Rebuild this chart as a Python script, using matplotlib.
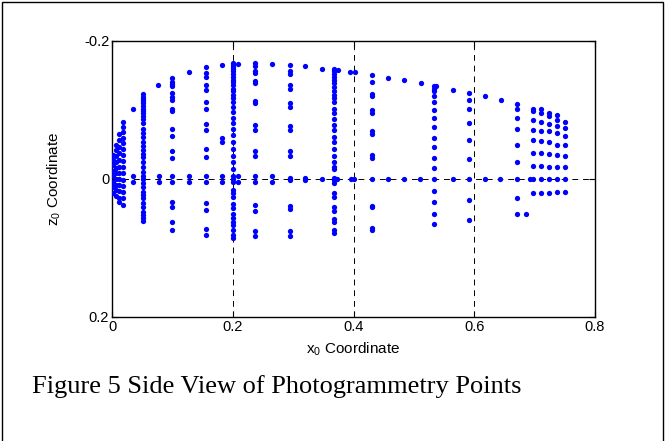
import matplotlib
matplotlib.use("Agg")
import matplotlib.pyplot as plt
from matplotlib.patches import Rectangle

plt.rcParams['font.family'] = ['Liberation Sans', 'DejaVu Sans']
plt.rcParams['mathtext.fontset'] = 'custom'
plt.rcParams['mathtext.rm'] = 'Liberation Sans'
plt.rcParams['mathtext.it'] = 'Liberation Sans:italic'

# ---- data: vertical station columns (x0, list of z0) ----
col_x = [0.002, 0.007, 0.012, 0.018, 0.034, 0.052, 0.100, 0.155, 0.182,
         0.200, 0.237, 0.294, 0.368, 0.430, 0.533, 0.591, 0.671,
         0.697, 0.710, 0.723, 0.737, 0.750]
col_z = [
    [-0.035, -0.028, -0.020, -0.012, -0.004, 0.005, 0.012, 0.020],
    [-0.050, -0.042, -0.033, -0.025, -0.016, -0.008, 0.000, 0.008, 0.016, 0.024],
    [-0.065, -0.056, -0.047, -0.038, -0.028, -0.018, -0.009, 0.000, 0.009, 0.018, 0.027, 0.033],
    [-0.082, -0.075, -0.068, -0.060, -0.052, -0.044, -0.035, -0.026, -0.017, -0.008,
     0.001, 0.010, 0.019, 0.028, 0.038],
    [-0.101, -0.004, 0.005],
    [-0.123, -0.119, -0.116, -0.113, -0.110, -0.106, -0.101, -0.099, -0.096, -0.091,
     -0.087, -0.081, -0.072, -0.067, -0.061, -0.054, -0.048, -0.042, -0.036, -0.032,
     -0.025, -0.017, -0.010, -0.004, 0.000, 0.006, 0.012, 0.019, 0.023, 0.028,
     0.035, 0.041, 0.048, 0.052, 0.057, 0.061],
    [-0.147, -0.141, -0.138, -0.135, -0.124, -0.119, -0.114, -0.101, -0.098, -0.072,
     -0.062, -0.040, -0.030, -0.004, 0.005, 0.033, 0.041, 0.063, 0.074],
    [-0.163, -0.154, -0.148, -0.136, -0.129, -0.111, -0.102, -0.079, -0.071, -0.043,
     -0.032, -0.004, 0.005, 0.035, 0.045, 0.073, 0.081],
    [-0.165, -0.060, -0.053, -0.004, 0.005],
    [-0.168, -0.165, -0.162, -0.159, -0.156, -0.152, -0.148, -0.144, -0.140, -0.136,
     -0.131, -0.127, -0.122, -0.117, -0.112, -0.105, -0.097, -0.089, -0.081, -0.072,
     -0.064, -0.054, -0.044, -0.033, -0.024, -0.014, -0.004, 0.000, 0.005, 0.016,
     0.021, 0.026, 0.036, 0.042, 0.050, 0.056, 0.062, 0.067, 0.074, 0.081, 0.085],
    [-0.168, -0.164, -0.157, -0.154, -0.142, -0.139, -0.113, -0.110, -0.078, -0.071,
     -0.041, -0.033, -0.004, 0.005, 0.038, 0.046, 0.075, 0.083],
    [-0.165, -0.156, -0.152, -0.136, -0.131, -0.110, -0.105, -0.077, -0.071, -0.040,
     -0.033, -0.002, 0.002, 0.039, 0.044, 0.076, 0.083],
    [-0.159, -0.156, -0.152, -0.148, -0.143, -0.139, -0.134, -0.128, -0.122, -0.117,
     -0.111, -0.102, -0.095, -0.087, -0.078, -0.071, -0.061, -0.053, -0.043, -0.033,
     -0.025, -0.018, -0.014, -0.001, 0.001, 0.006, 0.020, 0.026, 0.041, 0.047,
     0.058, 0.062, 0.074, 0.078],
    [-0.151, -0.140, -0.123, -0.120, -0.100, -0.096, -0.069, -0.065, -0.035, -0.031,
     0.000, 0.039, 0.041, 0.071, 0.074],
    [-0.135, -0.131, -0.127, -0.120, -0.111, -0.100, -0.088, -0.075, -0.060, -0.046,
     -0.031, -0.016, 0.000, 0.018, 0.034, 0.050, 0.065],
    [-0.124, -0.115, -0.101, -0.081, -0.057, -0.029, 0.000, 0.030, 0.059],
    [-0.109, -0.101, -0.089, -0.072, -0.050, -0.025, 0.000, 0.027, 0.051],
    [-0.102, -0.098, -0.086, -0.071, -0.057, -0.037, -0.019, 0.000, 0.020],
    [-0.101, -0.095, -0.082, -0.070, -0.055, -0.037, -0.019, 0.000, 0.020],
    [-0.096, -0.091, -0.080, -0.069, -0.054, -0.036, -0.018, 0.000, 0.020],
    [-0.093, -0.086, -0.077, -0.066, -0.050, -0.035, -0.018, 0.000, 0.019],
    [-0.083, -0.074, -0.063, -0.049, -0.033, -0.017, 0.000, 0.019],
]

# ---- data: single rim points along the upper outline ----
rim_x = [0.076, 0.127, 0.209, 0.265, 0.320, 0.348, 0.375, 0.395, 0.403,
         0.457, 0.483, 0.512, 0.537, 0.565, 0.617, 0.645, 0.685]
rim_z = [-0.136, -0.155, -0.166, -0.166, -0.164, -0.160, -0.158, -0.155, -0.155,
         -0.147, -0.143, -0.139, -0.135, -0.129, -0.120, -0.114, 0.050]

# ---- data: points on (or right next to) the z0 = 0 line ----
zero_x = [0.078, 0.078, 0.128, 0.128, 0.209, 0.209, 0.265, 0.265, 0.320, 0.320,
          0.347, 0.372, 0.396, 0.400, 0.457, 0.483, 0.510, 0.565, 0.617, 0.643, 0.693]
zero_z = [-0.004, 0.005, -0.004, 0.005, -0.004, 0.005, -0.004, 0.005, -0.002, 0.002,
          0.000, 0.000, 0.000, 0.000, 0.000, 0.000, 0.000, 0.000, 0.000, 0.000, 0.000]

x_ticks = [0, 0.2, 0.4, 0.6, 0.8]
x_ticklabels = ['0', '0.2', '0.4', '0.6', '0.8']
y_ticks = [-0.2, 0, 0.2]
y_ticklabels = ['-0.2', '0', '0.2']

fig = plt.figure(figsize=(6.66, 4.41), dpi=100)
ax = fig.add_axes([112 / 666, 1 - 317 / 441, (595 - 112) / 666, (317 - 41) / 441])

blue = '#0000ff'
xs, zs = [], []
for cx, cz in zip(col_x, col_z):
    xs.extend([cx] * len(cz))
    zs.extend(cz)
xs.extend(rim_x); zs.extend(rim_z)
xs.extend(zero_x); zs.extend(zero_z)
ax.plot(xs, zs, linestyle='none', marker='o', ms=3.8, mfc=blue, mec='none', zorder=3)

ax.set_xlim(0, 0.8)
ax.set_ylim(0.2, -0.2)
ax.set_xticks(x_ticks)
ax.set_xticklabels(x_ticklabels)
ax.set_yticks(y_ticks)
ax.set_yticklabels(y_ticklabels)
ax.tick_params(direction='in', length=4, width=0.8, labelsize=10.5, pad=2,
               top=True, right=True)
for s in ax.spines.values():
    s.set_linewidth(1.0)

ax.grid(True, color='black', linestyle=(0, (6, 5)), linewidth=0.7, zorder=1)
ax.set_axisbelow(True)

ax.set_xlabel('x$_0$ Coordinate', fontsize=11, labelpad=5)
ax.set_ylabel('z$_0$ Coordinate', fontsize=11, labelpad=15)

fig.text(32 / 666, 1 - 393 / 441, 'Figure 5 Side View of Photogrammetry Points',
         family=['Liberation Serif', 'DejaVu Serif'], fontsize=19,
         ha='left', va='baseline')

fig.patches.append(Rectangle((0.003, -0.01), 0.993, 1.005, transform=fig.transFigure,
                             fill=False, edgecolor='black', linewidth=1.0))

fig.savefig('out.png', dpi=100)
